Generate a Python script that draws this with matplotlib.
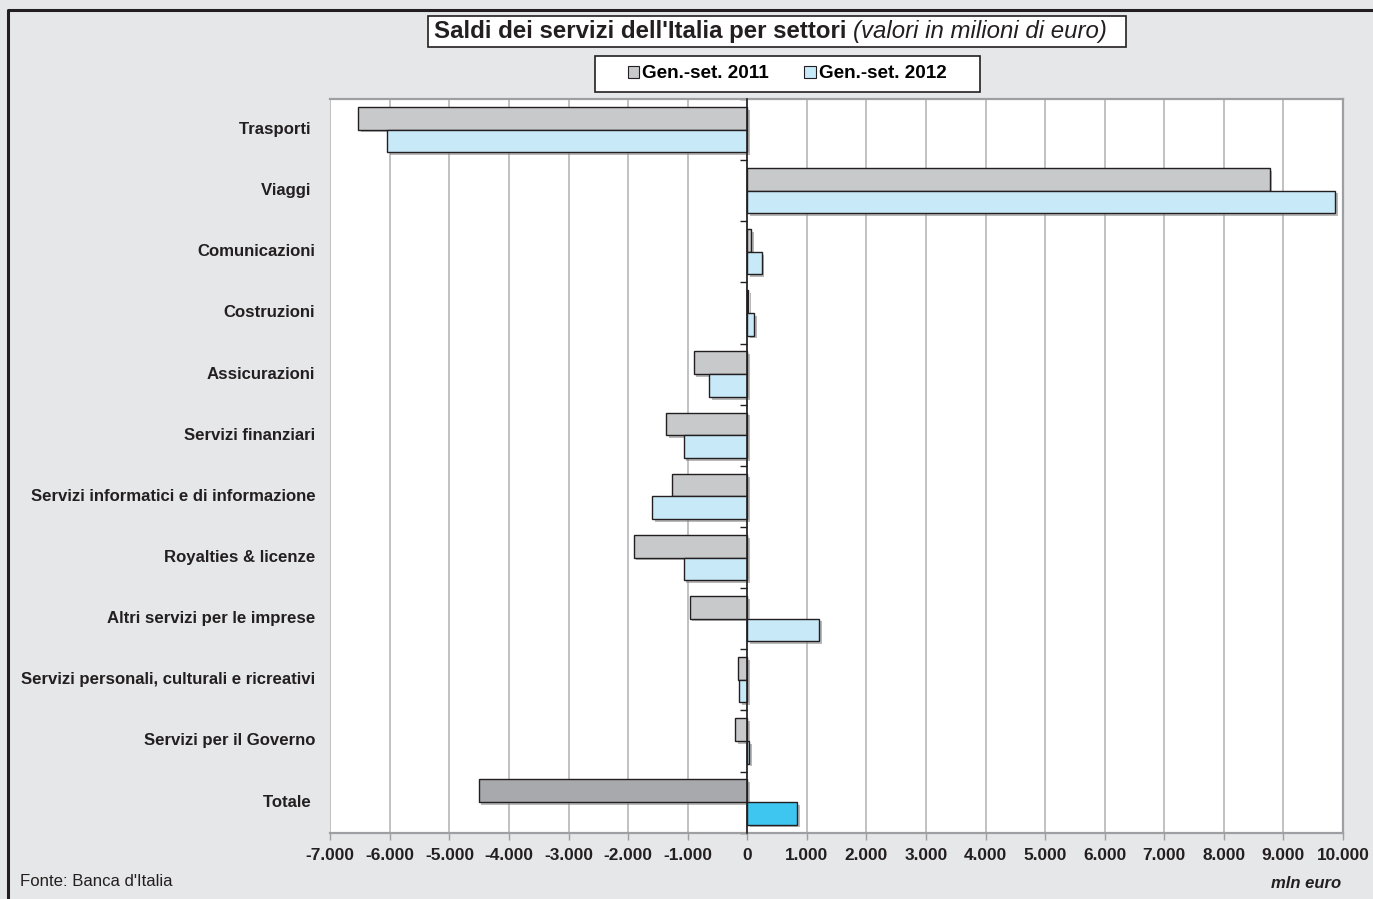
import matplotlib
matplotlib.use("Agg")
import matplotlib.pyplot as plt
import matplotlib.patheffects as pe
from matplotlib.patches import Patch, Rectangle
from matplotlib.lines import Line2D

# data (mln euro)
categories = ["Trasporti ", "Viaggi ", "Comunicazioni", "Costruzioni", "Assicurazioni",
              "Servizi finanziari", "Servizi informatici e di informazione",
              "Royalties & licenze", "Altri servizi per le imprese",
              "Servizi personali, culturali e ricreativi", "Servizi per il Governo", "Totale "]
saldi_2011 = [-6540, 8770, 70, 10, -900, -1360, -1260, -1910, -970, -160, -210, -4510]
saldi_2012 = [-6050, 9870, 240, 110, -640, -1070, -1600, -1070, 1200, -140, 35, 830]
series_labels = ["Gen.-set. 2011", "Gen.-set. 2012"]
x_ticks = list(range(-7000, 10001, 1000))

BG = "#e6e7e8"
TXT = "#231f20"
C11 = "#c8c9cb"
C12 = "#c7e9f8"
C11_TOT = "#a7a9ac"
C12_TOT = "#3fc6f0"
SANS = ["Liberation Sans", "DejaVu Sans"]

fig = plt.figure(figsize=(13.73, 8.99), dpi=100, facecolor=BG)
ax = fig.add_axes([0.2406, 0.0738, 0.7375, 0.8161])
ax.set_facecolor("white")

h = 0.37
shadow = [pe.SimplePatchShadow(offset=(2, -2), shadow_rgbFace="#8a8a8a", alpha=0.6), pe.Normal()]
n = len(categories)
for i in range(n):
    last = i == n - 1
    b1 = ax.barh(i - h / 2, saldi_2011[i], height=h, color=C11_TOT if last else C11,
                 edgecolor=TXT, linewidth=1.0, zorder=3)
    b2 = ax.barh(i + h / 2, saldi_2012[i], height=h, color=C12_TOT if last else C12,
                 edgecolor=TXT, linewidth=1.0, zorder=3)
    for b in list(b1) + list(b2):
        b.set_path_effects(shadow)

ax.set_xlim(x_ticks[0], x_ticks[-1])
ax.set_ylim(n - 0.5, -0.5)
ax.set_xticks(x_ticks)
ax.set_xticklabels([f"{v:,}".replace(",", ".") for v in x_ticks],
                   fontweight="bold", fontsize=12.4, color=TXT, family=SANS)
ax.tick_params(axis="x", length=5, color="#9d9fa2", width=1, pad=6)
ax.grid(axis="x", color="#b5b6b8", linewidth=1.2, zorder=0)
ax.set_axisbelow(True)

# zero line acts as the category axis, ticks between groups
ax.spines["left"].set_position(("data", 0))
ax.spines["left"].set_color(TXT)
ax.spines["left"].set_linewidth(1.2)
ax.spines["left"].set_zorder(4)
ax.set_yticks([i - 0.5 for i in range(n + 1)])
ax.set_yticklabels([])
ax.tick_params(axis="y", length=5, color=TXT, width=1)
for s in ["top", "right", "bottom"]:
    ax.spines[s].set_color("#9d9fa2")
    ax.spines[s].set_linewidth(1.6)

for i, lab in enumerate(categories):
    ax.text(-0.015, i, lab, transform=ax.get_yaxis_transform(), ha="right", va="center",
            fontsize=12.1, fontweight="bold", color=TXT, family=SANS)

# title box
t = fig.text(434 / 1373, 1 - 31.5 / 899, "Saldi dei servizi dell'Italia per settori ", ha="left",
             va="center", fontsize=17.3, fontweight="bold", color=TXT, family=SANS)
fig.canvas.draw()
bb = t.get_window_extent()
fig.text(bb.x1 / fig.bbox.width, 1 - 31.5 / 899, "(valori in milioni di euro)", ha="left",
         va="center", fontsize=17.3, fontstyle="italic", color=TXT, family=SANS)
fig.patches.append(Rectangle((428 / 1373, 1 - 47 / 899), (1126 - 428) / 1373, 31 / 899,
                             transform=fig.transFigure, facecolor="white", edgecolor=TXT,
                             linewidth=1.2, zorder=-1))
fig.patches.append(Rectangle((595 / 1373, 1 - 92 / 899), (980 - 595) / 1373, 36 / 899,
                             transform=fig.transFigure, facecolor="white", edgecolor=TXT,
                             linewidth=1.2, zorder=-1))

handles = [Patch(facecolor=C11, edgecolor=TXT, linewidth=0.8),
           Patch(facecolor=C12, edgecolor=TXT, linewidth=0.8)]
fig.legend(handles, series_labels, loc="center", bbox_to_anchor=(787 / 1373, 1 - 74 / 899),
           ncol=2, frameon=False, handlelength=0.6, handleheight=0.6, handletextpad=0.15,
           columnspacing=1.9, prop={"family": SANS, "weight": "bold", "size": 13.6})

fig.text(20 / 1373, 1 - 881 / 899, "Fonte: Banca d'Italia", ha="left", va="center",
         fontsize=12.1, color=TXT, family=SANS)
fig.text(1306 / 1373, 1 - 883 / 899, "mln euro", ha="center", va="center",
         fontsize=12, fontweight="bold", fontstyle="italic", color=TXT, family=SANS)

# outer frame, top and left edges
fig.lines.append(Line2D([8 / 1373, 8 / 1373, 1], [0, 1 - 10 / 899, 1 - 10 / 899],
                        transform=fig.transFigure, color=TXT, linewidth=2.2))

fig.savefig("out.png", dpi=100, facecolor=BG)
